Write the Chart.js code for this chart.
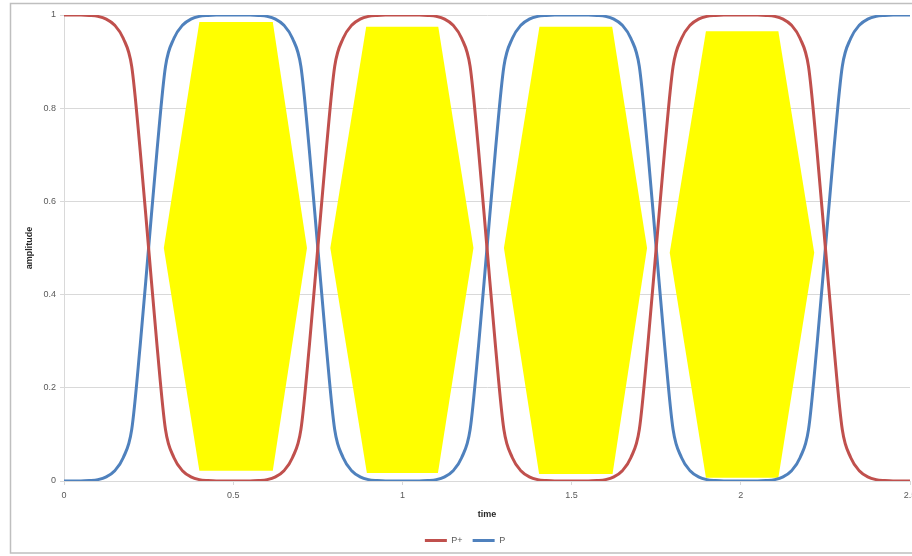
<!DOCTYPE html>
<html>
<head>
<meta charset="utf-8">
<script src="https://cdn.jsdelivr.net/npm/chart.js@4/dist/chart.umd.min.js"></script>
<style>
  body { margin: 0; overflow: hidden; background: #fff; }
  #wrap { position: absolute; left: 0; top: 0; width: 940px; height: 556px; }
</style>
</head>
<body>
<div id="wrap"><canvas id="myChart" width="940" height="556"></canvas></div>
<script>
// time axis (step 0.025)
const times = [
  0, 0.025, 0.05, 0.075, 0.1, 0.125, 0.15, 0.175, 0.2, 0.225,
  0.25, 0.275, 0.3, 0.325, 0.35, 0.375, 0.4, 0.425, 0.45, 0.475,
  0.5, 0.525, 0.55, 0.575, 0.6, 0.625, 0.65, 0.675, 0.7, 0.725,
  0.75, 0.775, 0.8, 0.825, 0.85, 0.875, 0.9, 0.925, 0.95, 0.975,
  1, 1.025, 1.05, 1.075, 1.1, 1.125, 1.15, 1.175, 1.2, 1.225,
  1.25, 1.275, 1.3, 1.325, 1.35, 1.375, 1.4, 1.425, 1.45, 1.475,
  1.5, 1.525, 1.55, 1.575, 1.6, 1.625, 1.65, 1.675, 1.7, 1.725,
  1.75, 1.775, 1.8, 1.825, 1.85, 1.875, 1.9, 1.925, 1.95, 1.975,
  2, 2.025, 2.05, 2.075, 2.1, 2.125, 2.15, 2.175, 2.2, 2.225,
  2.25, 2.275, 2.3, 2.325, 2.35, 2.375, 2.4, 2.425, 2.45, 2.475,
  2.5
];

// P+ (red)
const pPlus = [
  1, 1, 1, 0.999, 0.997, 0.991, 0.978, 0.95, 0.89, 0.71, 0.5, 0.29, 0.11, 0.05, 0.022, 0.009, 0.003, 0.001, 0, 0, 0,
  0, 0, 0.001, 0.003, 0.009, 0.022, 0.05, 0.11, 0.29, 0.5, 0.71, 0.89, 0.95, 0.978, 0.991, 0.997, 0.999, 1, 1, 1,
  1, 1, 0.999, 0.997, 0.991, 0.978, 0.95, 0.89, 0.71, 0.5, 0.29, 0.11, 0.05, 0.022, 0.009, 0.003, 0.001, 0, 0, 0,
  0, 0, 0.001, 0.003, 0.009, 0.022, 0.05, 0.11, 0.29, 0.5, 0.71, 0.89, 0.95, 0.978, 0.991, 0.997, 0.999, 1, 1, 1,
  1, 1, 0.999, 0.997, 0.991, 0.978, 0.95, 0.89, 0.71, 0.5, 0.29, 0.11, 0.05, 0.022, 0.009, 0.003, 0.001, 0, 0, 0
];

// P (blue)
const pMain = [
  0, 0, 0, 0.001, 0.003, 0.009, 0.022, 0.05, 0.11, 0.29, 0.5, 0.71, 0.89, 0.95, 0.978, 0.991, 0.997, 0.999, 1, 1, 1,
  1, 1, 0.999, 0.997, 0.991, 0.978, 0.95, 0.89, 0.71, 0.5, 0.29, 0.11, 0.05, 0.022, 0.009, 0.003, 0.001, 0, 0, 0,
  0, 0, 0.001, 0.003, 0.009, 0.022, 0.05, 0.11, 0.29, 0.5, 0.71, 0.89, 0.95, 0.978, 0.991, 0.997, 0.999, 1, 1, 1,
  1, 1, 0.999, 0.997, 0.991, 0.978, 0.95, 0.89, 0.71, 0.5, 0.29, 0.11, 0.05, 0.022, 0.009, 0.003, 0.001, 0, 0, 0,
  0, 0, 0.001, 0.003, 0.009, 0.022, 0.05, 0.11, 0.29, 0.5, 0.71, 0.89, 0.95, 0.978, 0.991, 0.997, 0.999, 1, 1, 1
];

// yellow hexagons (eye openings)
const poly1X = [0.295, 0.40, 0.617, 0.718, 0.617, 0.40, 0.295];
const poly1Y = [0.5, 0.985, 0.985, 0.5, 0.022, 0.022, 0.5];
const poly2X = [0.787, 0.893, 1.106, 1.21, 1.105, 0.895, 0.787];
const poly2Y = [0.5, 0.975, 0.975, 0.5, 0.017, 0.017, 0.5];
const poly3X = [1.30, 1.405, 1.62, 1.723, 1.621, 1.404, 1.30];
const poly3Y = [0.5, 0.975, 0.975, 0.5, 0.015, 0.015, 0.5];
const poly4X = [1.79, 1.897, 2.111, 2.217, 2.111, 1.897, 1.79];
const poly4Y = [0.49, 0.965, 0.965, 0.49, 0.007, 0.007, 0.49];

function pts(xs, ys) {
  return xs.map((x, i) => ({ x: x, y: ys[i] }));
}

function polyDataset(xs, ys) {
  return {
    label: 'eye',
    data: pts(xs, ys),
    borderWidth: 0,
    borderColor: 'rgba(0,0,0,0)',
    backgroundColor: '#FFFF00',
    pointRadius: 0,
    tension: 0,
    fill: 'shape'
  };
}

// tick text like "0.5", "1", "2"
function tickText(v) {
  return parseFloat(v.toFixed(2)).toString();
}

const grey = '#d9d9d9';
const txt = '#595959';

// white page + outer chart frame (right side runs off the page)
const frame = {
  id: 'frame',
  beforeDraw(chart) {
    const c = chart.ctx;
    c.save();
    c.fillStyle = '#fff';
    c.fillRect(0, 0, chart.width, chart.height);
    c.strokeStyle = '#bfbfbf';
    c.lineWidth = 1.5;
    c.strokeRect(10.5, 3.5, 1000, 549.5);
    c.restore();
  }
};

const config = {
  type: 'line',
  data: {
    datasets: [
      {
        label: 'P+',
        data: pts(times, pPlus),
        borderColor: '#C0504D',
        backgroundColor: '#C0504D',
        borderWidth: 3,
        pointRadius: 0,
        cubicInterpolationMode: 'monotone',
        fill: false
      },
      {
        label: 'P',
        data: pts(times, pMain),
        borderColor: '#4F81BD',
        backgroundColor: '#4F81BD',
        borderWidth: 3,
        pointRadius: 0,
        cubicInterpolationMode: 'monotone',
        fill: false
      },
      polyDataset(poly1X, poly1Y),
      polyDataset(poly2X, poly2Y),
      polyDataset(poly3X, poly3Y),
      polyDataset(poly4X, poly4Y)
    ]
  },
  options: {
    responsive: false,
    animation: false,
    events: [],
    layout: { padding: { left: 20, right: 30, top: 15, bottom: 1 } },
    scales: {
      x: {
        type: 'linear',
        min: 0,
        max: 2.5,
        afterFit: s => { s.height = 45; },
        ticks: {
          stepSize: 0.5,
          color: txt,
          padding: 5,
          maxRotation: 0,
          callback: tickText,
          font: { family: 'Liberation Sans', size: 9 }
        },
        grid: { drawOnChartArea: false, drawTicks: true, tickLength: 4, color: grey },
        border: { color: grey },
        title: {
          display: true,
          text: 'time',
          color: '#262626',
          padding: { top: 2, bottom: 6 },
          font: { family: 'Liberation Sans', size: 9, weight: 'bold' }
        }
      },
      y: {
        min: 0,
        max: 1,
        afterFit: s => { s.width = 44; },
        ticks: {
          stepSize: 0.2,
          color: txt,
          padding: 4,
          callback: tickText,
          font: { family: 'Liberation Sans', size: 9 }
        },
        grid: { color: grey, tickLength: 4 },
        border: { color: grey },
        title: {
          display: true,
          text: 'amplitude',
          color: '#262626',
          padding: 4,
          font: { family: 'Liberation Sans', size: 9, weight: 'bold' }
        }
      }
    },
    plugins: {
      tooltip: { enabled: false },
      legend: {
        position: 'bottom',
        labels: {
          boxWidth: 22,
          boxHeight: 3,
          padding: 10,
          color: txt,
          font: { family: 'Liberation Sans', size: 9 },
          filter: item => item.datasetIndex < 2,
          generateLabels: chart => {
            const items = Chart.defaults.plugins.legend.labels.generateLabels(chart);
            items.forEach(it => { it.lineWidth = 0; it.fillStyle = it.strokeStyle; });
            return items;
          }
        }
      }
    }
  },
  plugins: [frame]
};

const myChart = new Chart(document.getElementById('myChart'), config);
</script>
</body>
</html>
